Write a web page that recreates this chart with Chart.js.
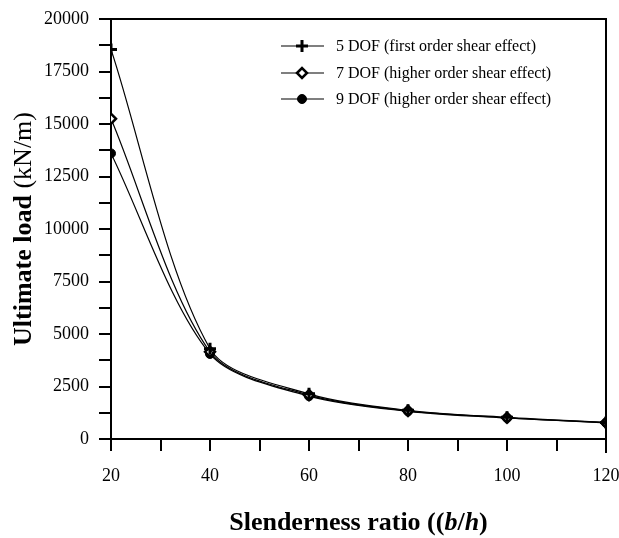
<!DOCTYPE html>
<html>
<head>
<meta charset="utf-8">
<script src="https://cdn.jsdelivr.net/npm/chart.js@4"></script>
<style>
  html, body { margin: 0; padding: 0; background: #fff; }
  #wrap { width: 619px; height: 538px; }
</style>
</head>
<body>
<div id="wrap"><canvas id="myChart" width="619" height="538"></canvas></div>
<script>
const slenderness = [20, 40, 60, 80, 100, 120];
const dof5 = [18550, 4300, 2150, 1370, 1030, 790];
const dof7 = [15250, 4150, 2090, 1340, 1010, 780];
const dof9 = [13600, 4050, 2040, 1320, 1000, 770];
const seriesNames = [
  "5 DOF (first order shear effect)",
  "7 DOF (higher order shear effect)",
  "9 DOF (higher order shear effect)",
];

const serif = '"Liberation Serif", "Times New Roman", serif';

const toPoints = (ys) => slenderness.map((x, i) => ({ x: x, y: ys[i] }));

const markers = [
  { pointStyle: "cross", radius: 6, borderWidth: 3, fill: "#000" },
  { pointStyle: "rectRot", radius: 5, borderWidth: 2.5, fill: "#fff" },
  { pointStyle: "circle", radius: 4.5, borderWidth: 1, fill: "#000" },
];

const datasets = [dof5, dof7, dof9].map((ys, i) => ({
  label: seriesNames[i],
  data: toPoints(ys),
  borderColor: "#000",
  borderWidth: 1.2,
  backgroundColor: markers[i].fill,
  pointStyle: markers[i].pointStyle,
  pointRadius: markers[i].radius,
  pointBorderWidth: markers[i].borderWidth,
  pointBackgroundColor: markers[i].fill,
  pointBorderColor: "#000",
  tension: 0.3,
  fill: false,
}));

// frame, legend and axis titles
const decorations = {
  id: "decorations",
  afterDraw(chart) {
    const ctx = chart.ctx;
    const a = chart.chartArea;
    ctx.save();
    ctx.strokeStyle = "#000";
    ctx.lineWidth = 2;
    ctx.beginPath();
    ctx.moveTo(a.left - 12, a.top);
    ctx.lineTo(a.right, a.top);
    ctx.lineTo(a.right, a.bottom + 14);
    ctx.stroke();

    // legend
    ctx.font = "16px " + serif;
    ctx.textBaseline = "middle";
    ctx.textAlign = "left";
    const rows = [46, 73, 99];
    rows.forEach((y, i) => {
      ctx.strokeStyle = "#000";
      ctx.lineWidth = 1.2;
      ctx.beginPath();
      ctx.moveTo(281, y);
      ctx.lineTo(324, y);
      ctx.stroke();
      ctx.fillStyle = markers[i].fill;
      ctx.strokeStyle = "#000";
      ctx.lineWidth = markers[i].borderWidth;
      Chart.helpers.drawPoint(ctx, {
        pointStyle: markers[i].pointStyle,
        radius: markers[i].radius,
        borderWidth: markers[i].borderWidth,
        rotation: 0,
      }, 302, y);
      ctx.fillStyle = "#000";
      ctx.fillText(seriesNames[i], 336, y + 1);
    });

    // x title with italic b and h
    const parts = [
      ["bold", "Slenderness ratio (("],
      ["italic bold", "b"],
      ["bold", "/"],
      ["italic bold", "h"],
      ["bold", ")"],
    ];
    let total = 0;
    parts.forEach((p) => {
      ctx.font = p[0] + " 26px " + serif;
      total += ctx.measureText(p[1]).width;
    });
    let x = (a.left + a.right) / 2 - total / 2;
    ctx.textBaseline = "alphabetic";
    parts.forEach((p) => {
      ctx.font = p[0] + " 26px " + serif;
      ctx.fillText(p[1], x, 530);
      x += ctx.measureText(p[1]).width;
    });

    // y title
    ctx.translate(24, (a.top + a.bottom) / 2);
    ctx.rotate(-Math.PI / 2);
    const yParts = [
      ["bold", "Ultimate load "],
      ["normal", "(kN/m)"],
    ];
    total = 0;
    yParts.forEach((p) => {
      ctx.font = p[0] + " 26px " + serif;
      total += ctx.measureText(p[1]).width;
    });
    x = -total / 2;
    ctx.textBaseline = "middle";
    yParts.forEach((p) => {
      ctx.font = p[0] + " 26px " + serif;
      ctx.fillText(p[1], x, 0);
      x += ctx.measureText(p[1]).width;
    });
    ctx.restore();
  },
};

const ctx = document.getElementById("myChart");

new Chart(ctx, {
  type: "line",
  data: { datasets: datasets },
  plugins: [decorations],
  options: {
    responsive: false,
    animation: false,
    layout: { padding: { top: 19, right: 13, left: 0, bottom: 0 } },
    plugins: {
      legend: { display: false },
      tooltip: { enabled: false },
    },
    scales: {
      x: {
        type: "linear",
        min: 20,
        max: 120,
        afterFit: (scale) => {
          scale.height = 99;
          scale.paddingLeft = 0;
          scale.paddingRight = 0;
        },
        border: { color: "#000", width: 2 },
        grid: {
          drawOnChartArea: false,
          color: "#000",
          lineWidth: 2,
          tickLength: 12,
        },
        ticks: {
          stepSize: 10,
          autoSkip: false,
          maxRotation: 0,
          padding: 14,
          color: "#000",
          font: { family: serif, size: 18 },
          callback: (v) => (v % 20 === 0 ? v : ""),
        },
      },
      y: {
        min: 0,
        max: 20000,
        afterFit: (scale) => {
          scale.width = 111;
          scale.paddingTop = 0;
          scale.paddingBottom = 0;
        },
        border: { color: "#000", width: 2 },
        grid: {
          drawOnChartArea: false,
          color: "#000",
          lineWidth: 2,
          tickLength: 12,
        },
        ticks: {
          stepSize: 1250,
          autoSkip: false,
          padding: 10,
          color: "#000",
          font: { family: serif, size: 18 },
          callback: (v) => (v % 2500 === 0 ? v : ""),
        },
      },
    },
  },
});
</script>
</body>
</html>
